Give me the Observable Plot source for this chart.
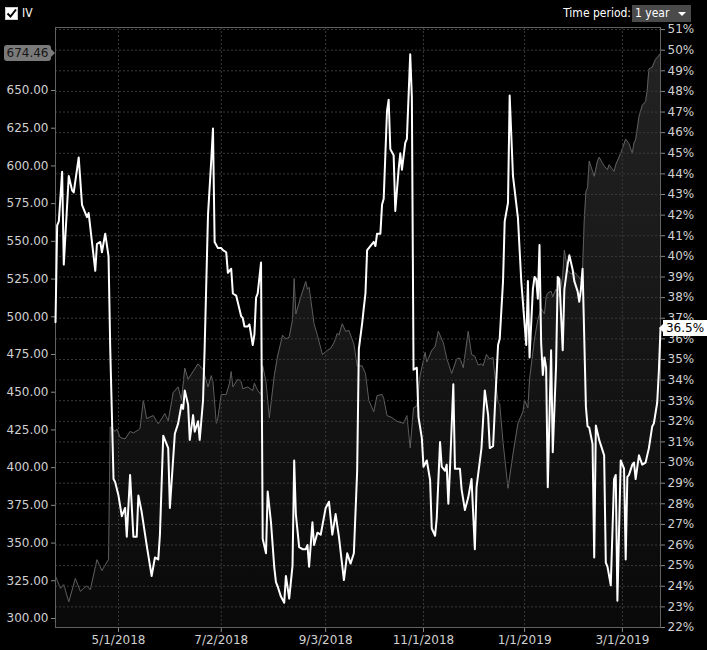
<!DOCTYPE html>
<html>
<head>
<meta charset="utf-8">
<script src="https://cdn.jsdelivr.net/npm/d3@7"></script>
<script src="https://cdn.jsdelivr.net/npm/@observablehq/plot@0.6"></script>
<style>
  body { margin: 0; background: #000; }
  #chart { position: relative; width: 707px; height: 650px; background: #000; overflow: hidden;
           font-family: "DejaVu Sans", sans-serif; }
  #chart svg { position: absolute; left: 0; top: 0; }
  .hdr { position: absolute; color: #fff; font-family: "DejaVu Sans Condensed", "DejaVu Sans", sans-serif; font-size: 12px; line-height: 17px; }
  #iv-toggle { left: 5px; top: 5px; display: flex; align-items: center; gap: 4px; }
  #period { right: 76px; top: 5px; }
  #period-box { left: 632px; top: 5px; width: 59px; height: 17px; background: #4a4a4a; padding-left: 3px; box-sizing: border-box; }
  #period-box i { position: absolute; right: 5px; top: 7px; border-left: 4px solid transparent; border-right: 4px solid transparent; border-top: 4px solid #fff; }
  .tag { position: absolute; height: 16px; line-height: 16px; font-size: 12px; font-family: "DejaVu Sans", sans-serif; text-align: center; }
  #price-tag { left: 4px; width: 47px; background: #7a7a7a; color: #161616; border-radius: 3px; }
  #price-tag::after { content: ""; position: absolute; right: -4px; top: 4px; border-top: 4px solid transparent; border-bottom: 4px solid transparent; border-left: 4px solid #7a7a7a; }
  #iv-tag { left: 663px; width: 44px; background: #fff; color: #000; }
  #iv-tag::before { content: ""; position: absolute; left: -4px; top: 4px; border-top: 4px solid transparent; border-bottom: 4px solid transparent; border-right: 4px solid #fff; }
</style>
</head>
<body>
<div id="chart"></div>
<script>
// underlying price (grey area, left axis)
const priceDates = [
  "2018-03-24","2018-03-27","2018-03-29","2018-04-01","2018-04-05","2018-04-08","2018-04-10","2018-04-12",
  "2018-04-14","2018-04-18","2018-04-21","2018-04-23","2018-04-25","2018-04-26","2018-04-29","2018-04-30",
  "2018-05-02","2018-05-05","2018-05-08","2018-05-10","2018-05-13","2018-05-14","2018-05-16","2018-05-18",
  "2018-05-22","2018-05-25","2018-05-29","2018-05-31","2018-06-03","2018-06-06","2018-06-08","2018-06-10",
  "2018-06-12","2018-06-15","2018-06-18","2018-06-21","2018-06-24","2018-06-26","2018-06-27","2018-06-29",
  "2018-06-30","2018-07-02","2018-07-05","2018-07-07","2018-07-08","2018-07-09","2018-07-12","2018-07-14",
  "2018-07-15","2018-07-18","2018-07-21","2018-07-22","2018-07-24","2018-07-26","2018-07-27","2018-07-29",
  "2018-07-31","2018-08-03","2018-08-05","2018-08-08","2018-08-10","2018-08-12","2018-08-14","2018-08-15",
  "2018-08-16","2018-08-19","2018-08-22","2018-08-23","2018-08-24","2018-08-27","2018-08-29","2018-09-01",
  "2018-09-04","2018-09-06","2018-09-08","2018-09-10","2018-09-11","2018-09-13","2018-09-15","2018-09-17",
  "2018-09-20","2018-09-22","2018-09-25","2018-09-27","2018-09-29","2018-10-02","2018-10-04","2018-10-07",
  "2018-10-08","2018-10-10","2018-10-13","2018-10-16","2018-10-20","2018-10-22","2018-10-24","2018-10-26",
  "2018-10-28","2018-10-30","2018-11-02","2018-11-03","2018-11-06","2018-11-08","2018-11-10","2018-11-13",
  "2018-11-15","2018-11-18","2018-11-21","2018-11-23","2018-11-25","2018-11-28","2018-11-30","2018-12-02",
  "2018-12-04","2018-12-06","2018-12-07","2018-12-09","2018-12-11","2018-12-13","2018-12-14","2018-12-16",
  "2018-12-17","2018-12-19","2018-12-22","2018-12-25","2018-12-28","2018-12-31","2019-01-01","2019-01-03",
  "2019-01-04","2019-01-07","2019-01-09","2019-01-11","2019-01-13","2019-01-14","2019-01-15","2019-01-17",
  "2019-01-18","2019-01-20","2019-01-22","2019-01-24","2019-01-25","2019-01-27","2019-01-29","2019-01-31",
  "2019-02-02","2019-02-04","2019-02-05","2019-02-06","2019-02-07","2019-02-08","2019-02-09","2019-02-12",
  "2019-02-14","2019-02-15","2019-02-18","2019-02-20","2019-02-21","2019-02-24","2019-02-25","2019-02-28",
  "2019-03-03","2019-03-05","2019-03-07","2019-03-08","2019-03-09","2019-03-11","2019-03-13","2019-03-15",
  "2019-03-16","2019-03-17","2019-03-19","2019-03-21","2019-03-22","2019-03-24"
];
const priceValues = [
  328, 320, 322.5, 311, 326.6, 318, 320, 321.6,
  319, 339, 331.7, 335.5, 339, 427, 424, 425.6,
  420, 419, 424, 423, 425, 426, 444.7, 432.5,
  434.5, 429, 435.8, 431, 449.7, 453.5, 444.7, 466,
  458.6, 463.7, 468.8, 465, 453.5, 461, 457, 429.4,
  433, 448.5, 448.5, 456, 463.7, 453.5, 458.6, 457,
  452.3, 453.5, 451, 456, 451, 448.5, 467.5, 457,
  433, 461, 474, 487.8, 485.3, 486.5, 498, 525.4,
  501.8, 513.2, 523.4, 518.3, 519.5, 495.4, 487.8, 475,
  477.7, 479, 482.7, 489, 487.8, 495.4, 490.4, 490.9,
  482, 467.5, 467.5, 462.4, 444.7, 437, 447.7, 448.5,
  446, 434.5, 433.2, 430.7, 429.4, 434.5, 413, 439.6,
  440.9, 461.2, 476.4, 470, 477.7, 480.2, 490.4, 482.7,
  472.6, 462.4, 472, 472.6, 466.2, 490.4, 475, 473.8,
  468, 468.8, 467.5, 475, 472, 473, 461.2, 443.4,
  442, 416.8, 386.3, 409, 429.4, 437, 444.7, 439.6,
  458.6, 485.3, 498, 505.6, 501.8, 513.2, 515.7, 517,
  513.2, 518.3, 513.2, 527.2, 544.2, 531, 528.4, 529.7,
  527.2, 524.6, 532.2, 564, 583, 585.5, 603.3, 593.1,
  603.3, 605.8, 600, 597.5, 600.8, 596.4, 600.8, 608.4,
  617.8, 614.7, 608.4, 615.2, 617.3, 632.5, 640.2, 642.7,
  650.3, 664.2, 665.5, 670.6, 671.8, 674.46
];

// implied volatility, % (white line, right axis)
const ivDates = [
  "2018-03-24","2018-03-25","2018-03-26","2018-03-28","2018-03-29","2018-04-01","2018-04-03","2018-04-04",
  "2018-04-07","2018-04-09","2018-04-11","2018-04-12","2018-04-13","2018-04-17","2018-04-18","2018-04-20",
  "2018-04-21","2018-04-23","2018-04-25","2018-04-26","2018-04-28","2018-04-29","2018-05-01","2018-05-03",
  "2018-05-05","2018-05-06","2018-05-08","2018-05-10","2018-05-12","2018-05-13","2018-05-15","2018-05-18",
  "2018-05-21","2018-05-23","2018-05-25","2018-05-26","2018-05-28","2018-05-31","2018-06-01","2018-06-04",
  "2018-06-06","2018-06-08","2018-06-09","2018-06-10","2018-06-12","2018-06-13","2018-06-15","2018-06-16",
  "2018-06-18","2018-06-19","2018-06-21","2018-06-22","2018-06-24","2018-06-26","2018-06-27","2018-06-28",
  "2018-06-30","2018-07-02","2018-07-03","2018-07-05","2018-07-06","2018-07-08","2018-07-09","2018-07-11",
  "2018-07-14","2018-07-15","2018-07-16","2018-07-18","2018-07-19","2018-07-21","2018-07-22","2018-07-23",
  "2018-07-24","2018-07-26","2018-07-27","2018-07-29","2018-07-30","2018-08-01","2018-08-03","2018-08-04",
  "2018-08-05","2018-08-07","2018-08-09","2018-08-10","2018-08-12","2018-08-14","2018-08-15","2018-08-16",
  "2018-08-18","2018-08-20","2018-08-22","2018-08-23","2018-08-24","2018-08-26","2018-08-27","2018-08-29",
  "2018-08-31","2018-09-03","2018-09-05","2018-09-07","2018-09-09","2018-09-11","2018-09-14","2018-09-16",
  "2018-09-18","2018-09-20","2018-09-22","2018-09-23","2018-09-25","2018-09-26","2018-09-27","2018-09-28",
  "2018-09-29","2018-10-02","2018-10-03","2018-10-04","2018-10-06","2018-10-07","2018-10-08","2018-10-10",
  "2018-10-11","2018-10-12","2018-10-14","2018-10-15","2018-10-17","2018-10-18","2018-10-19","2018-10-21",
  "2018-10-22","2018-10-24","2018-10-25","2018-10-26","2018-10-28","2018-10-29","2018-10-31","2018-11-01",
  "2018-11-03","2018-11-05","2018-11-06","2018-11-08","2018-11-09","2018-11-11","2018-11-12","2018-11-14",
  "2018-11-15","2018-11-16","2018-11-17","2018-11-19","2018-11-20","2018-11-23","2018-11-24","2018-11-26",
  "2018-11-28","2018-11-30","2018-12-02","2018-12-03","2018-12-06","2018-12-08","2018-12-10","2018-12-11",
  "2018-12-13","2018-12-14","2018-12-16","2018-12-17","2018-12-19","2018-12-20","2018-12-22","2018-12-23",
  "2018-12-25","2018-12-28","2018-12-30","2019-01-02","2019-01-03","2019-01-04","2019-01-06","2019-01-07",
  "2019-01-08","2019-01-09","2019-01-10","2019-01-11","2019-01-12","2019-01-13","2019-01-14","2019-01-15",
  "2019-01-17","2019-01-18","2019-01-20","2019-01-21","2019-01-22","2019-01-24","2019-01-25","2019-01-27",
  "2019-01-28","2019-01-30","2019-01-31","2019-02-02","2019-02-03","2019-02-04","2019-02-05","2019-02-07",
  "2019-02-08","2019-02-09","2019-02-11","2019-02-12","2019-02-13","2019-02-15","2019-02-18","2019-02-19",
  "2019-02-20","2019-02-22","2019-02-24","2019-02-25","2019-02-26","2019-02-28","2019-03-02","2019-03-03",
  "2019-03-04","2019-03-05","2019-03-07","2019-03-08","2019-03-09","2019-03-11","2019-03-13","2019-03-15",
  "2019-03-17","2019-03-19","2019-03-20","2019-03-22","2019-03-23","2019-03-24"
];
const ivValues = [
  36.8, 41.5, 41.7, 44.1, 39.6, 43.9, 43.2, 43.1,
  44.8, 42.5, 42.1, 41.9, 42.1, 39.3, 40.6, 40.7,
  40.2, 41.1, 40.0, 35.6, 29.2, 29.05, 28.4, 27.4,
  27.8, 26.4, 29.4, 26.4, 26.4, 28.4, 27.6, 26.0,
  24.5, 25.4, 25.3, 26.5, 31.3, 30.7, 27.8, 31.4,
  31.9, 32.8, 32.6, 33.5, 32.8, 31.1, 32.3, 31.5,
  32.0, 31.1, 33.0, 35.6, 42.0, 44.7, 46.2, 40.7,
  40.4, 40.4, 40.3, 40.2, 39.2, 39.4, 38.2, 38.1,
  37.1, 37.0, 36.6, 36.6, 36.7, 35.7, 36.2, 38.0,
  38.2, 39.7, 26.3, 25.6, 28.6, 27.1, 24.9, 24.2,
  24.0, 23.5, 23.2, 24.5, 23.4, 25.0, 30.1, 27.5,
  25.9, 25.8, 25.8, 26.0, 24.95, 27.1, 26.0, 26.6,
  26.5, 27.8, 28.1, 26.5, 27.5, 26.4, 24.3, 25.6,
  25.1, 25.6, 29.6, 35.5, 36.75, 37.5, 38.2, 40.3,
  40.4, 40.7, 40.5, 41.1, 41.1, 42.5, 42.8, 47.05,
  47.6, 45.2, 44.9, 42.2, 44.2, 45.0, 44.2, 45.5,
  45.7, 49.8, 47.7, 34.5, 34.6, 32.2, 31.2, 29.8,
  30.1, 29.15, 26.8, 26.45, 27.3, 31.0, 29.8, 29.6,
  29.9, 28.0, 29.7, 33.8, 29.7, 29.7, 28.7, 27.7,
  28.3, 29.2, 25.8, 28.8, 30.7, 33.5, 32.3, 30.7,
  30.8, 32.5, 35.7, 36.0, 38.8, 41.7, 42.6, 47.8,
  43.9, 41.85, 38.8, 35.7, 38.8, 35.1, 38.4, 39.0,
  38.9, 37.95, 40.55, 35.8, 34.25, 35.1, 34.6, 28.8,
  35.45, 30.5, 34.7, 39.0, 38.9, 35.45, 38.4, 39.6,
  40.05, 39.35, 38.8, 38.3, 37.8, 38.4, 39.4, 32.7,
  31.75, 31.7, 30.9, 25.4, 31.8, 31.1, 30.35, 25.15,
  24.95, 24.05, 29.2, 29.4, 23.3, 30.1, 29.7, 25.3,
  29.3, 29.4, 29.9, 30.0, 29.2, 30.35, 29.9, 30.0,
  30.7, 31.75, 31.9, 32.9, 34.4, 36.5
];

const dateTicks = ["2018-05-01", "2018-07-02", "2018-09-03", "2018-11-01", "2019-01-01", "2019-03-01"];
const priceTicks = [300, 325, 350, 375, 400, 425, 450, 475, 500, 525, 550, 575, 600, 625, 650];
const ivTicks = [22, 23, 24, 25, 26, 27, 28, 29, 30, 31, 32, 33, 34, 35, 36, 37, 38, 39, 40, 41, 42, 43, 44, 45, 46, 47, 48, 49, 50, 51];

const parse = d3.utcParse("%Y-%m-%d");
const price = priceDates.map((d, i) => ({date: parse(d), value: priceValues[i]}));
const iv = ivDates.map((d, i) => ({date: parse(d), value: ivValues[i]}));
const xTicks = dateTicks.map(parse);
const xDomain = [parse("2018-03-24"), parse("2019-03-24")];
const priceDomain = [294.03, 691.76];
const ivDomain = [22, 51.1];

const frame = {width: 707, height: 650, marginLeft: 55, marginRight: 47, marginTop: 27, marginBottom: 23};
const font = {fontFamily: "DejaVu Sans, sans-serif", fontSize: "12px"};

// back layer: price area with the left and bottom axes
const back = Plot.plot({
  ...frame,
  style: {...font, background: "#000", color: "#d0d0d0"},
  x: {type: "utc", domain: xDomain},
  y: {domain: priceDomain},
  marks: [
    () => {
      const defs = d3.create("svg:defs");
      const g = defs.append("linearGradient").attr("id", "priceFill")
        .attr("gradientUnits", "userSpaceOnUse").attr("x1", 0).attr("x2", 0).attr("y1", 27).attr("y2", 627);
      g.append("stop").attr("offset", 0).attr("stop-color", "#242424");
      g.append("stop").attr("offset", 1).attr("stop-color", "#090909");
      return defs.node();
    },
    Plot.areaY(price, {x: "date", y1: priceDomain[0], y2: "value", fill: "url(#priceFill)"}),
    Plot.lineY(price, {x: "date", y: "value", stroke: "#5e5e5e", strokeWidth: 1}),
    Plot.axisY({anchor: "left", ticks: priceTicks, tickFormat: d3.format(".2f"), tickSize: 4, tickPadding: 3,
                stroke: "#888", fill: "#d0d0d0", label: null}),
    Plot.axisX({ticks: xTicks, tickFormat: d3.utcFormat("%-m/%-d/%Y"), tickSize: 5, tickPadding: 3,
                stroke: "#888", fill: "#d0d0d0", label: null})
  ]
});

// front layer: grid, IV line and the right axis
const front = Plot.plot({
  ...frame,
  style: {...font, background: "transparent", color: "#d0d0d0"},
  x: {type: "utc", domain: xDomain, axis: null},
  y: {domain: ivDomain},
  marks: [
    Plot.gridY({ticks: ivTicks, stroke: "#3a3a3a", strokeOpacity: 1, strokeDasharray: "2,2"}),
    Plot.gridX({ticks: xTicks, stroke: "#3a3a3a", strokeOpacity: 1, strokeDasharray: "2,2"}),
    Plot.frame({stroke: "#606060"}),
    Plot.lineY(iv, {x: "date", y: "value", stroke: "#fff", strokeWidth: 2}),
    Plot.axisY({anchor: "right", ticks: ivTicks, tickFormat: d => d + "%", tickSize: 4, tickPadding: 3,
                stroke: "#888", fill: "#d0d0d0", label: null})
  ]
});

const root = d3.select("#chart");
root.append(() => back);
root.append(() => front);

// header
root.append("div").attr("class", "hdr").attr("id", "iv-toggle")
  .html('<svg width="13" height="13" style="position:static"><rect x="0.5" y="0.5" width="12" height="12" fill="#fff" stroke="#ccc"/>' +
        '<path d="M2.5 6.5 L5.5 9.5 L11 2.5" fill="none" stroke="#000" stroke-width="2"/></svg><span>IV</span>');
root.append("div").attr("class", "hdr").attr("id", "period").text("Time period:");
root.append("div").attr("class", "hdr").attr("id", "period-box").html("1 year<i></i>");

// last-value tags, placed with the chart scales
const lastPrice = priceValues[priceValues.length - 1];
const lastIv = ivValues[ivValues.length - 1];
root.append("div").attr("class", "tag").attr("id", "price-tag")
  .style("top", (back.scale("y").apply(lastPrice) - 8) + "px").text(lastPrice.toFixed(2));
root.append("div").attr("class", "tag").attr("id", "iv-tag")
  .style("top", (front.scale("y").apply(lastIv) - 8) + "px").text(lastIv + "%");
</script>
</body>
</html>
